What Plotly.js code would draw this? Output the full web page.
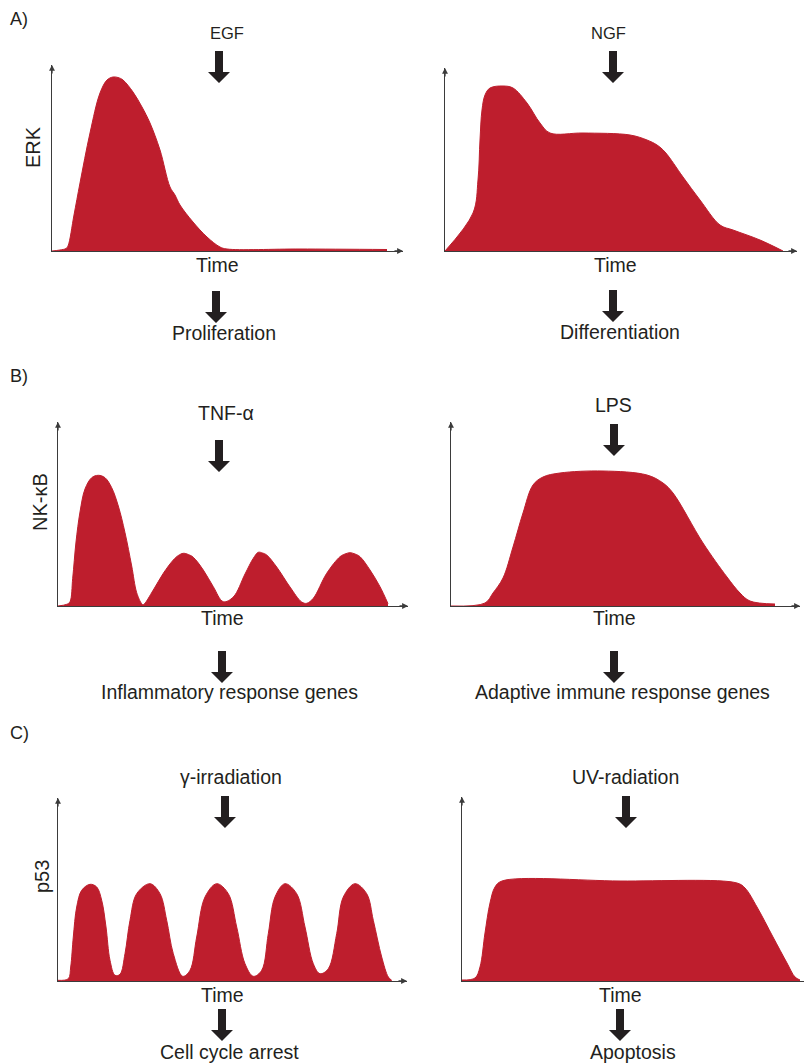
<!DOCTYPE html>
<html>
<head>
<meta charset="utf-8">
<script src="https://cdn.plot.ly/plotly-3.0.1.min.js"></script>
<style>
  html, body { margin: 0; padding: 0; background: #ffffff; }
  #fig { width: 804px; height: 1064px; }
</style>
</head>
<body>
<div id="fig"></div>
<script>
// Signalling dynamics: time courses of ERK, NF-κB and p53 after different stimuli.
// Time and level are in arbitrary units (x: time from stimulus, y: activity).

// A) ERK after EGF (transient) and NGF (sustained)
const egfTime = [0, 8, 14, 16, 22, 28, 38, 48, 55, 61, 66, 71, 81, 90, 98, 108, 118, 123, 128, 141, 155, 168, 175, 248, 335];
const egfErk  = [0, 1, 2.5, 5, 36, 68, 118, 158, 171, 174, 173.5, 171, 159, 144, 128, 101, 64, 56, 46, 29, 14, 4, 2, 2, 1.5];

const ngfTime = [0, 28, 33, 35, 37, 40, 45, 58, 68, 82, 95, 105, 138, 185, 202, 212, 220, 238, 255, 275, 288, 315, 338];
const ngfErk  = [0, 38, 71, 111, 141, 156, 163, 165, 163, 148, 128, 118, 118, 116, 111, 106, 99, 74, 51, 26, 21, 11, 0];

// B) NF-κB after TNF-α (damped oscillation) and LPS (sustained)
const tnfTime = [0, 8.7, 12, 14.7, 18, 22, 27, 33.7, 40.3, 47, 53.7, 60.3, 67, 73.7, 78.7, 83.7, 85.3,
                 95.3, 105.3, 115.3, 120.3, 125.3, 130.3, 135.3, 145.3, 155.3, 165.3,
                 175.3, 187, 195.3, 200.3, 204.5, 208.7, 218.7, 232, 243.7, 248.7,
                 255.3, 268.7, 282, 287, 292, 297, 302, 312, 322, 330];
const tnfNfkb = [0, 1.7, 4.3, 27.7, 64, 94, 117, 128.3, 130.7, 128.3, 118.3, 100, 73.3, 40, 13.3, 2.3, 1.3,
                 16, 32.7, 46, 50.5, 52.7, 51.5, 48.7, 36, 19.3, 4.3,
                 9, 32, 47.7, 53.7, 53, 51, 39, 19, 4, 2.7,
                 7.7, 32.7, 49.3, 52, 53.3, 52, 49.3, 36, 19.3, 2.3];

const lpsTime = [0, 34, 42, 52, 62, 72, 82, 92, 109, 152, 196, 212, 222, 252, 276, 289, 299, 324];
const lpsNfkb = [0, 3, 13, 28, 59, 93, 121, 129, 133, 135, 131, 123, 113, 63, 29, 13, 5, 2];

// C) p53 after γ-irradiation (pulses) and UV-radiation (sustained)
const gammaTime = [0, 10.3, 12.7, 15.3, 18.7, 23.7, 32, 38.7, 43.7, 48, 52, 57,
                   62, 67, 72, 78.7, 92, 102, 108.7, 115.3, 124.7,
                   132, 138.7, 147, 158.7, 170.3, 178.7, 187, 195.3,
                   203.7, 210.3, 217, 227, 238.7, 247, 255.3, 262,
                   270.3, 278.7, 285.3, 297, 308.7, 315.3, 323.7, 330.3, 333.7];
const gammaP53  = [0.7, 2.3, 14, 44, 74, 90.7, 96.7, 94, 80.7, 54, 20.7, 5.7,
                   6.7, 27.3, 60.7, 87.3, 97.3, 87.3, 60.7, 27.3, 4.7,
                   10.7, 44, 84, 97.3, 87.3, 54, 17.3, 4.7,
                   10.7, 47.3, 84, 97.3, 87.3, 54, 17.3, 7.3,
                   12.3, 47.3, 84, 97.3, 87.3, 60.7, 24, 4, 0.7];

const uvTime = [0, 13, 18, 23, 28, 33, 40, 158, 275, 283, 295, 311, 325, 333, 338];
const uvP53  = [1, 3, 14, 48, 78, 94, 100, 100, 98, 93, 74, 44, 18, 4, 1];

// Labels
const panelLetters = ['A)', 'B)', 'C)'];
const stimuli   = ['EGF', 'NGF', 'TNF-α', 'LPS', 'γ-irradiation', 'UV-radiation'];
const outcomes  = ['Proliferation', 'Differentiation', 'Inflammatory response genes',
                   'Adaptive immune response genes', 'Cell cycle arrest', 'Apoptosis'];
const readouts  = ['ERK', 'NK-κB', 'p53'];
const timeLabel = 'Time';

const series = [
  [egfTime, egfErk], [ngfTime, ngfErk],
  [tnfTime, tnfNfkb], [lpsTime, lpsNfkb],
  [gammaTime, gammaP53], [uvTime, uvP53]
];

// Page geometry (pixels) of each panel: origin (x0, y0), x-axis tip x1, y-axis tip y1
const W = 804, H = 1064;
const frames = [
  {x0: 52,  x1: 403, y0: 251, y1: 65},
  {x0: 445, x1: 797, y0: 251, y1: 68},
  {x0: 58,  x1: 408, y0: 606, y1: 422},
  {x0: 451, x1: 800, y0: 606, y1: 422},
  {x0: 58,  x1: 407, y0: 981, y1: 798},
  {x0: 462, x1: 804, y0: 981, y1: 797, openEnd: true}
];
// Label placement (pixel centres): stimulus text, arrow above, Time, arrow below, outcome
const place = [
  {stim: [227, 33],  arUp: [219, 51],  time: [217, 265], arDn: [216, 291], out: [224, 333]},
  {stim: [608, 33],  arUp: [613, 51],  time: [615, 265], arDn: [613, 290], out: [620, 332]},
  {stim: [226, 413], arUp: [219, 440], time: [222, 618], arDn: [222, 651], out: [230, 692]},
  {stim: [613, 405], arUp: [614, 424], time: [614, 618], arDn: [614, 651], out: [622, 692]},
  {stim: [231, 777], arUp: [225, 796], time: [222, 995], arDn: [222, 1009], out: [230, 1052]},
  {stim: [625, 777], arUp: [626, 796], time: [620, 995], arDn: [620, 1009], out: [633, 1052]}
];
const readoutPos = [[33, 147], [40, 502], [42, 877]];
const letterPos  = [[8, 19], [8, 376], [8, 733]];

const RED = '#be1e2d';
const INK = '#231f20';
const AXIS = '#3b3b3b';
const FONT = 'Liberation Sans, Arial, Helvetica, sans-serif';
const TEXT_SIZE = 19.5;

const px = v => v / W;          // pixel x -> paper
const py = v => 1 - v / H;      // pixel y -> paper

const data = [];
const layout = {
  width: W, height: H,
  margin: {l: 0, r: 0, t: 0, b: 0, pad: 0},
  paper_bgcolor: '#ffffff',
  plot_bgcolor: 'rgba(0,0,0,0)',
  showlegend: false,
  font: {family: FONT, color: INK, size: TEXT_SIZE},
  shapes: [],
  annotations: []
};

frames.forEach((f, i) => {
  const n = i + 1;
  const sfx = n === 1 ? '' : String(n);
  const [t, v] = series[i];
  data.push({
    type: 'scatter', mode: 'lines',
    x: t, y: v,
    xaxis: 'x' + sfx, yaxis: 'y' + sfx,
    fill: 'tozeroy', fillcolor: RED,
    line: {color: RED, width: 1, shape: 'spline', smoothing: 1},
    hoverinfo: 'skip'
  });
  const common = {
    showgrid: false, zeroline: false, showticklabels: false, ticks: '',
    showline: true, linecolor: AXIS, linewidth: 1.3, layer: 'below traces',
    fixedrange: true
  };
  layout['xaxis' + sfx] = Object.assign({}, common, {
    domain: [px(f.x0), Math.min(1, px(f.x1))],
    range: [0, f.x1 - f.x0],
    anchor: 'y' + sfx
  });
  layout['yaxis' + sfx] = Object.assign({}, common, {
    domain: [py(f.y0), py(f.y1)],
    range: [0, f.y0 - f.y1],
    anchor: 'x' + sfx
  });

  // arrow tips on the axes
  const tip = (x, y, ax, ay) => layout.annotations.push({
    xref: 'paper', yref: 'paper', x: px(x), y: py(y), ax: ax, ay: ay,
    text: '', showarrow: true, arrowhead: 2, arrowsize: 0.9, arrowwidth: 1.3,
    arrowcolor: AXIS, standoff: 0, startstandoff: 0
  });
  tip(f.x0, f.y1, 0, 10);
  if (!f.openEnd) tip(f.x1, f.y0, -10, 0);
});

// solid block arrow pointing down, top centre at (cx, top)
function blockArrow(cx, top) {
  const len = 32, head = 11, sw = 4, hw = 11;
  const pts = [
    [cx - sw, top], [cx + sw, top], [cx + sw, top + len - head],
    [cx + hw, top + len - head], [cx, top + len],
    [cx - hw, top + len - head], [cx - sw, top + len - head]
  ];
  const path = 'M' + pts.map(p => px(p[0]).toFixed(5) + ',' + py(p[1]).toFixed(5)).join(' L') + ' Z';
  layout.shapes.push({type: 'path', xref: 'paper', yref: 'paper', path: path,
                      fillcolor: INK, line: {width: 0}});
}

function label(text, x, y, opts) {
  layout.annotations.push(Object.assign({
    xref: 'paper', yref: 'paper', x: px(x), y: py(y), text: text,
    showarrow: false, xanchor: 'center', yanchor: 'middle',
    font: {family: FONT, color: INK, size: TEXT_SIZE}
  }, opts || {}));
}

place.forEach((p, i) => {
  const narrow = i < 2;
  label(stimuli[i], p.stim[0], p.stim[1], narrow ? {font: {family: FONT, color: INK, size: 16.5}} : {});
  blockArrow(p.arUp[0], p.arUp[1]);
  label(timeLabel, p.time[0], p.time[1]);
  blockArrow(p.arDn[0], p.arDn[1]);
  label(outcomes[i], p.out[0], p.out[1]);
});

readouts.forEach((r, i) => {
  label(r, readoutPos[i][0], readoutPos[i][1], {textangle: -90, font: {family: FONT, color: INK, size: 20}});
});
panelLetters.forEach((l, i) => {
  label(l, letterPos[i][0], letterPos[i][1], {xanchor: 'left', font: {family: FONT, color: INK, size: 18}});
});

Plotly.newPlot('fig', data, layout, {staticPlot: true, displayModeBar: false});
</script>
</body>
</html>
